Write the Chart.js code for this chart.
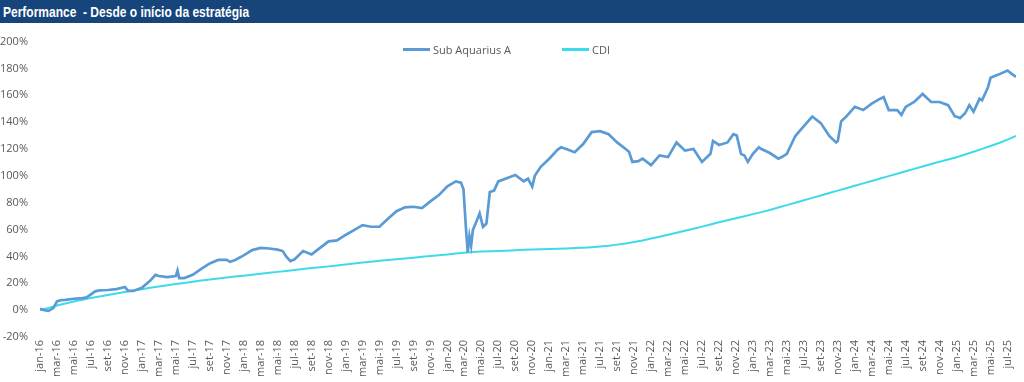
<!DOCTYPE html>
<html>
<head>
<meta charset="utf-8">
<title>Performance - Desde o início da estratégia</title>
<script src="https://cdn.jsdelivr.net/npm/chart.js@4.4.1/dist/chart.umd.min.js"></script>
<style>
  body { margin: 0; background: #fff; width: 1024px; height: 382px; overflow: hidden; position: relative; font-family: 'Open Sans', sans-serif; }
  #titleBar { position: absolute; left: 0; top: 0; width: 1024px; height: 23px; background: #15457a; color: #fff; box-sizing: border-box; padding-left: 3px; }
  #titleBar span { display: inline-block; font: bold 15px 'Liberation Sans', sans-serif; line-height: 23px; white-space: pre; transform: scaleX(0.8); transform-origin: left center; }
  #chartBox { position: absolute; left: 0; top: 23px; width: 1024px; height: 359px; }
  #legend { position: absolute; left: 403px; top: 42px; display: flex; align-items: center; font-size: 11px; color: #595959; }
  #legend .item { display: flex; align-items: center; margin-right: 51px; }
  #legend .swatch { width: 27px; height: 2.5px; margin-right: 3px; }
</style>
</head>
<body>
<div id="titleBar"><span>Performance  - Desde o início da estratégia</span></div>
<div id="chartBox"><canvas id="myChart"></canvas></div>
<div id="legend"></div>

<script>
// tick labels for the x axis (every second month, starting jan-16)
const tickLabels = [
  'jan-16','mar-16','mai-16','jul-16','set-16','nov-16',
  'jan-17','mar-17','mai-17','jul-17','set-17','nov-17',
  'jan-18','mar-18','mai-18','jul-18','set-18','nov-18',
  'jan-19','mar-19','mai-19','jul-19','set-19','nov-19',
  'jan-20','mar-20','mai-20','jul-20','set-20','nov-20',
  'jan-21','mar-21','mai-21','jul-21','set-21','nov-21',
  'jan-22','mar-22','mai-22','jul-22','set-22','nov-22',
  'jan-23','mar-23','mai-23','jul-23','set-23','nov-23',
  'jan-24','mar-24','mai-24','jul-24','set-24','nov-24',
  'jan-25','mar-25','mai-25','jul-25'
];

const seriesNames = ['Sub Aquarius A', 'CDI'];

// Sub Aquarius A: months since jan-16 and accumulated return (%)
const fundMonths = [0,0.5,1,1.6,2,2.5,3,4,5,5.5,6,6.5,7,8,9,10,10.4,11,12,13,13.6,14,15,16,16.2,16.4,17,18,19,20,
  21,22,22.4,23,24,25,26,27,28,28.6,29,29.5,30,31,32,33,34,35,36,37,38,39,40,41,42,43,44,45,46,47,48,49,
  49.6,49.9,50.2,50.4,50.6,50.8,51,51.4,51.8,52,52.2,52.6,53,53.5,54,55,56,57,57.5,58,58.3,59,60,61,61.4,62,63,64,
  65,66,67,68,69,69.4,69.8,70.5,71,72,73,74,75,76,77,78,79,79.3,80,81,81.7,82.1,82.6,83,83.4,84,84.7,85,86,87,87.4,
  88,89,90,91,92,93,93.8,94,94.4,95,96,97,98,99,99.4,100,101,101.5,102,103,104,105,106,107,107.8,108,108.4,109,
  109.5,110,110.7,111,111.7,112,113,114,114.5,115];
const fundValues = [1,0,-0.5,1.7,6.5,7.5,7.7,8.5,9,9.5,11.8,14,14.7,15,15.7,17.2,14.3,14.3,16.7,22,26.3,25.4,24.6,25.4,29.5,23.9,23.9,26.3,30.7,34.8,
  37.4,37.4,36,37.4,40.8,44.7,46.4,45.9,45.1,44,40,36.5,37.9,44,41.5,46.4,51.2,52,56,59.6,63.3,62.1,62.1,68.1,73.7,76.6,77,76,81,85.7,92.2,95.9,
  95,90,60,43,55,48,59.6,65.7,72,67,62,64.5,88,89,95.9,98.3,100.7,96,98,92,100,106.7,112.8,119.6,121.3,120,117.6,123.7,
  132.6,133.3,131,124.9,120,118,110.4,111,112.8,108,115.2,114,124.9,118.8,120,110.4,116.4,126,123,124.9,131,130,116.4,115.2,110.4,116.4,121.3,120,117,112.8,114,
  116.4,129.7,137,144.2,139.3,129.7,124.9,126,140.6,144.2,151.4,149,153.8,157.5,158.7,149,149,145.4,151.4,155,161,155,155,152.7,144.2,144.2,143,146.6,
  152.7,147.8,157.5,156.3,166,173,175.6,178.5,176,173.7];

// CDI: one value per month from jan-16 (%)
const cdiValues = [0,1.7,3.4,5.0,6.4,7.8,9.0,10.2,11.3,12.4,13.5,14.6,
  15.6,16.6,17.6,18.5,19.4,20.3,21.2,22.0,22.8,23.6,24.3,25.0,
  25.7,26.4,27.1,27.8,28.5,29.2,
  29.9,30.6,31.3,32.0,32.6,33.3,34.0,34.7,35.4,36.0,36.7,
  37.3,37.9,38.5,39.1,39.7,40.3,40.9,41.5,42.1,42.7,43.3,
  43.6,43.9,44.1,44.3,44.6,44.9,45.2,
  45.4,45.6,45.8,46.0,46.2,46.5,
  46.9,47.4,48.0,48.8,49.7,50.7,51.8,53.3,
  54.7,56.1,57.6,59.1,60.6,62.2,63.8,65.5,
  67.0,68.5,70.0,71.5,73.0,74.6,
  76.4,78.2,80.0,81.8,83.6,85.4,87.2,89.0,90.8,92.6,94.4,96.2,98.0,99.8,101.6,103.4,105.2,107.0,
  108.8,110.5,112.2,113.9,115.9,118.0,120.1,122.2,124.5,127.0,129.7];

const fundColor = '#5b9bd5';
const cdiColor = '#3ddbea';
const textColor = '#595959';

const fundPoints = fundMonths.map((m, i) => ({ x: m, y: fundValues[i] }));
const cdiPoints = cdiValues.map((v, i) => ({ x: i, y: v }));

const config = {
  type: 'line',
  data: {
    datasets: [
      { label: seriesNames[0], data: fundPoints, borderColor: fundColor, borderWidth: 2.7, pointRadius: 0, tension: 0 },
      { label: seriesNames[1], data: cdiPoints, borderColor: cdiColor, borderWidth: 2, pointRadius: 0, tension: 0 }
    ]
  },
  options: {
    responsive: false,
    animation: false,
    layout: { padding: { top: 10, right: 8, left: 0, bottom: 0 } },
    plugins: { legend: { display: false }, tooltip: { enabled: false } },
    scales: {
      x: {
        type: 'linear',
        min: 0,
        max: 115,
        grid: { display: false, drawTicks: false },
        border: { display: false },
        afterFit: (s) => { s.height = 45; },
        ticks: {
          stepSize: 2,
          includeBounds: false,
          autoSkip: false,
          maxTicksLimit: 100,
          minRotation: 90,
          maxRotation: 90,
          padding: 3,
          color: textColor,
          font: { family: 'Open Sans', size: 11 },
          callback: (v) => (v % 2 === 0 ? tickLabels[v / 2] : '')
        }
      },
      y: {
        min: -20,
        max: 200,
        grid: { display: false, drawTicks: false },
        border: { display: false },
        afterFit: (s) => { s.width = 40; },
        ticks: {
          stepSize: 20,
          padding: 12,
          color: textColor,
          font: { family: 'Open Sans', size: 11 },
          callback: (v) => v + '%'
        }
      }
    }
  }
};

const canvas = document.getElementById('myChart');
canvas.width = 1024;
canvas.height = 359;
const myChart = new Chart(canvas, config);

// simple legend built from the datasets
const legendBox = document.getElementById('legend');
myChart.data.datasets.forEach(ds => {
  const item = document.createElement('div');
  item.className = 'item';
  const sw = document.createElement('span');
  sw.className = 'swatch';
  sw.style.background = ds.borderColor;
  const txt = document.createElement('span');
  txt.textContent = ds.label;
  item.appendChild(sw);
  item.appendChild(txt);
  legendBox.appendChild(item);
});
</script>
</body>
</html>
